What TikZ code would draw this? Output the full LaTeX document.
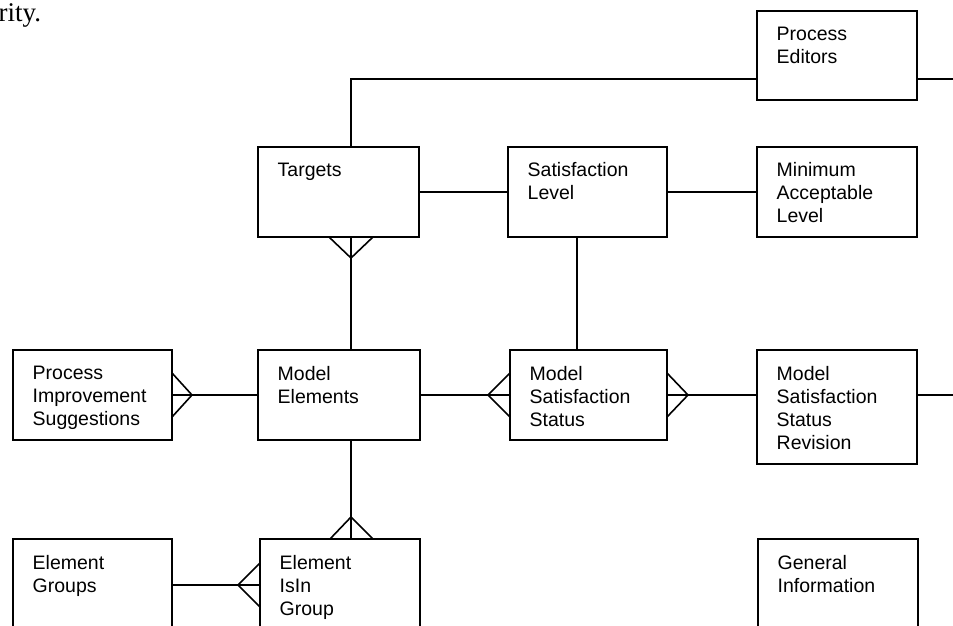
\documentclass[tikz,border=0pt]{standalone}
\usepackage{fontspec}
\setmainfont{Liberation Sans}
\newfontfamily\pageserif{Liberation Serif}
\usetikzlibrary{calc}
\tikzset{
  ent/.style={draw=black, line width=1.6pt, rectangle, inner sep=0pt, outer sep=0pt, anchor=north west},
  lbl/.style={anchor=north west, inner sep=0pt, align=left, font=\fontsize{19.5}{23}\selectfont},
  rel/.style={draw=black, line width=1.6pt, line join=miter},
}
\begin{document}
\begin{tikzpicture}[x=1pt,y=-1pt]
\useasboundingbox (0,0) rectangle (953,625);
\clip (0,0) rectangle (953,625);

% page fragment
\node[anchor=base west, inner sep=0pt, font=\pageserif\fontsize{27}{32}\selectfont] (frag) at (-1.5,21) {rity.};

% entities
\node[ent, minimum width=160, minimum height=89] (pe) at (757,11) {};
\node[ent, minimum width=161, minimum height=90] (tg) at (258,147) {};
\node[ent, minimum width=159, minimum height=90] (sl) at (508,147) {};
\node[ent, minimum width=160, minimum height=90] (mal) at (757,147) {};
\node[ent, minimum width=159, minimum height=90] (pis) at (13,350) {};
\node[ent, minimum width=162, minimum height=90] (me) at (258,350) {};
\node[ent, minimum width=157, minimum height=90] (mss) at (510,350) {};
\node[ent, minimum width=160, minimum height=114] (mssr) at (757,350) {};
\node[ent, minimum width=159, minimum height=110] (eg) at (13,539) {};
\node[ent, minimum width=160, minimum height=110] (eig) at (260,539) {};
\node[ent, minimum width=160, minimum height=110] (gi) at (758,539) {};

% labels
\node[lbl] (peT) at ($(pe.north west)+(19.5,15.5)$) {Process\\Editors};
\node[lbl] (tgT) at ($(tg.north west)+(19.5,15.5)$) {Targets};
\node[lbl] (slT) at ($(sl.north west)+(19.5,15)$) {Satisfaction\\Level};
\node[lbl] (malT) at ($(mal.north west)+(19.5,15)$) {Minimum\\Acceptable\\Level};
\node[lbl] (pisT) at ($(pis.north west)+(19.5,16)$) {Process\\Improvement\\Suggestions};
\node[lbl] (meT) at ($(me.north west)+(19.5,16)$) {Model\\Elements};
\node[lbl] (mssT) at ($(mss.north west)+(19.5,16)$) {Model\\Satisfaction\\Status};
\node[lbl] (mssrT) at ($(mssr.north west)+(19.5,16)$) {Model\\Satisfaction\\Status\\Revision};
\node[lbl] (egT) at ($(eg.north west)+(19.5,16)$) {Element\\Groups};
\node[lbl] (eigT) at ($(eig.north west)+(19.5,16)$) {Element\\IsIn\\Group};
\node[lbl] (giT) at ($(gi.north west)+(19.5,16)$) {General\\Information};

% junction coordinates
\coordinate (peR) at (953,79);
\coordinate (jA) at (351,79);
\coordinate (jB) at (577,0);
\coordinate (mssrR) at (953,395);
\coordinate (jD) at (0,585);

% connectors
\draw[rel] (pe.west |- peR) -- (jA) -- (jA |- tg.north);
\draw[rel] (pe.east |- peR) -- (peR);
\draw[rel] (tg.east) -- (tg.east -| sl.west);
\draw[rel] (sl.east) -- (sl.east -| mal.west);
\draw[rel] (jA |- tg.south) -- (jA |- me.north);
\draw[rel] ($(jA |- tg.south)+(-22,0)$) -- ($(jA |- tg.south)+(0,21)$) -- ($(jA |- tg.south)+(22,0)$);
\draw[rel] (jB |- sl.south) -- (jB |- mss.north);
\draw[rel] (pis.east) -- (me.west);
\draw[rel] ($(pis.east)+(0,-22)$) -- ($(pis.east)+(20,0)$) -- ($(pis.east)+(0,22)$);
\draw[rel] (me.east) -- (mss.west);
\draw[rel] ($(mss.west)+(0,-22)$) -- ($(mss.west)+(-22,0)$) -- ($(mss.west)+(0,22)$);
\draw[rel] (mss.east) -- (mss.east -| mssr.west);
\draw[rel] ($(mss.east)+(0,-22)$) -- ($(mss.east)+(21,0)$) -- ($(mss.east)+(0,22)$);
\draw[rel] (mssr.east |- mssrR) -- (mssrR);
\draw[rel] (jA |- me.south) -- (jA |- eig.north);
\draw[rel] ($(jA |- eig.north)+(-21,0)$) -- ($(jA |- eig.north)+(0,-22)$) -- ($(jA |- eig.north)+(22,0)$);
\draw[rel] (eg.east |- jD) -- (eig.west |- jD);
\draw[rel] ($(eig.west |- jD)+(0,-22)$) -- ($(eig.west |- jD)+(-22,0)$) -- ($(eig.west |- jD)+(0,22)$);
\end{tikzpicture}
\end{document}
